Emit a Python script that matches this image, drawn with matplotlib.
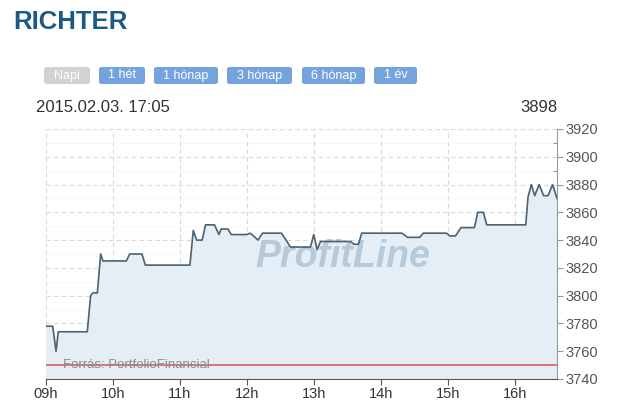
import numpy as np
import pandas as pd
import matplotlib
matplotlib.use('Agg')
import matplotlib.pyplot as plt
from matplotlib.patches import FancyBboxPatch
from matplotlib.ticker import MultipleLocator

plt.rcParams['font.family'] = ['Liberation Sans', 'DejaVu Sans']

# intraday price (time, value)
times = ['09:00', '09:06', '09:09', '09:11', '09:37', '09:40', '09:42', '09:46', '09:49', '09:51',
         '10:12', '10:15', '10:26', '10:29', '11:09', '11:12', '11:15', '11:20', '11:23', '11:31',
         '11:35', '11:37', '11:43', '11:46', '12:00', '12:03', '12:06', '12:10', '12:14', '12:31',
         '12:36', '12:39', '12:57', '13:00', '13:03', '13:06', '13:33', '13:36', '13:40', '13:43',
         '14:19', '14:24', '14:35', '14:38', '14:59', '15:02', '15:07', '15:12', '15:24', '15:27',
         '15:32', '15:35', '16:10', '16:12', '16:15', '16:18', '16:22', '16:26', '16:30', '16:34',
         '16:38']
prices = [3778, 3778, 3760, 3774, 3774, 3800, 3802, 3802, 3830, 3825,
          3825, 3830, 3830, 3822, 3822, 3847, 3840, 3840, 3851, 3851,
          3844, 3848, 3848, 3844, 3844, 3845, 3843, 3840, 3845, 3845,
          3839, 3835, 3835, 3844, 3833, 3839, 3839, 3837, 3837, 3845,
          3845, 3842, 3842, 3845, 3845, 3843, 3843, 3849, 3849, 3860,
          3860, 3851, 3851, 3871, 3880, 3872, 3880, 3872, 3872, 3880,
          3870]
prev_close = 3750
hour_labels = ['09h', '10h', '11h', '12h', '13h', '14h', '15h', '16h']
buttons = ['Napi', '1 hét', '1 hónap', '3 hónap', '6 hónap', '1 év']
title = 'RICHTER'
stamp = '2015.02.03. 17:05'
last_value = '3898'

W, H = 630, 416
fig = plt.figure(figsize=(W / 100, H / 100), dpi=100)
fig.patch.set_facecolor('white')


def px(x, y):
    return x / W, 1 - y / H


mins = pd.to_timedelta([t + ':00' for t in times]).total_seconds() / 60 - 9 * 60
x = np.array(mins)
y = np.array(prices)

ax = fig.add_axes([46 / W, 1 - 379 / H, (557 - 46) / W, (379 - 129) / H])
ax.set_facecolor('white')
ax.fill_between(x, 3740, y, color='#e5edf5', zorder=1)
ax.plot(x, y, color='#4d6272', lw=1.2, zorder=4)
ax.axhline(prev_close, color='#d9534f', lw=1.1, zorder=3)

ax.set_xlim(0, x[-1])
ax.set_ylim(3740, 3920)
ax.set_xticks(np.arange(len(hour_labels)) * 60)
ax.set_xticklabels(hour_labels)
ax.yaxis.tick_right()
ax.yaxis.set_major_locator(MultipleLocator(20))
ax.yaxis.set_minor_locator(MultipleLocator(10))

ax.grid(True, which='major', color='#d8d8d8', ls=(0, (4, 3)), lw=0.8, zorder=0)
ax.grid(True, which='minor', axis='y', color='#eeeeee', ls=(0, (1, 1)), lw=0.6, zorder=0)
ax.set_axisbelow(True)

for s in ['top', 'left']:
    ax.spines[s].set_visible(False)
ax.spines['bottom'].set_color('#555555')
ax.spines['right'].set_color('#999999')
ax.tick_params(axis='x', colors='#555555', labelcolor='#333333', labelsize=10.5, length=4, pad=2)
ax.tick_params(axis='y', which='major', colors='#999999', labelcolor='#555555', labelsize=10.5,
               length=4, pad=2)
ax.tick_params(axis='y', which='minor', colors='#d9534f', length=3, direction='in')

# watermark
ax.text(0.581, 0.448, 'ProfitLine', transform=ax.transAxes, ha='center', va='baseline',
        fontsize=27, fontweight='bold', style='italic', color='#b6cad9', zorder=2)
ax.text(15, 3750, 'Forrás: PortfolioFinancial', ha='left', va='center', fontsize=9.5,
        color='#8a8a8a', zorder=5)

# header
fig.text(*px(13, 22), title, ha='left', va='center', fontsize=18.5, fontweight='bold',
         color='#1b5a86')

# period buttons
btn_x = [44, 99, 154, 227, 302, 374]
btn_w = [46, 46, 64, 65, 63, 43]
for i, (lab, bx, bw) in enumerate(zip(buttons, btn_x, btn_w)):
    fc = '#d2d2d2' if i == 0 else '#74a3de'
    x0, y0 = px(bx, 84)
    box = FancyBboxPatch((x0, y0), bw / W, 17 / H, boxstyle='round,pad=0,rounding_size=0.005',
                         transform=fig.transFigure, fc=fc, ec='none')
    fig.patches.append(box)
    fig.text(*px(bx + bw / 2, 75.5), lab, ha='center', va='center', fontsize=9, color='white')

fig.text(*px(36, 107), stamp, ha='left', va='center', fontsize=12, color='#333333')
fig.text(*px(557, 107), last_value, ha='right', va='center', fontsize=12, color='#333333')

fig.savefig('out.png', dpi=100)
